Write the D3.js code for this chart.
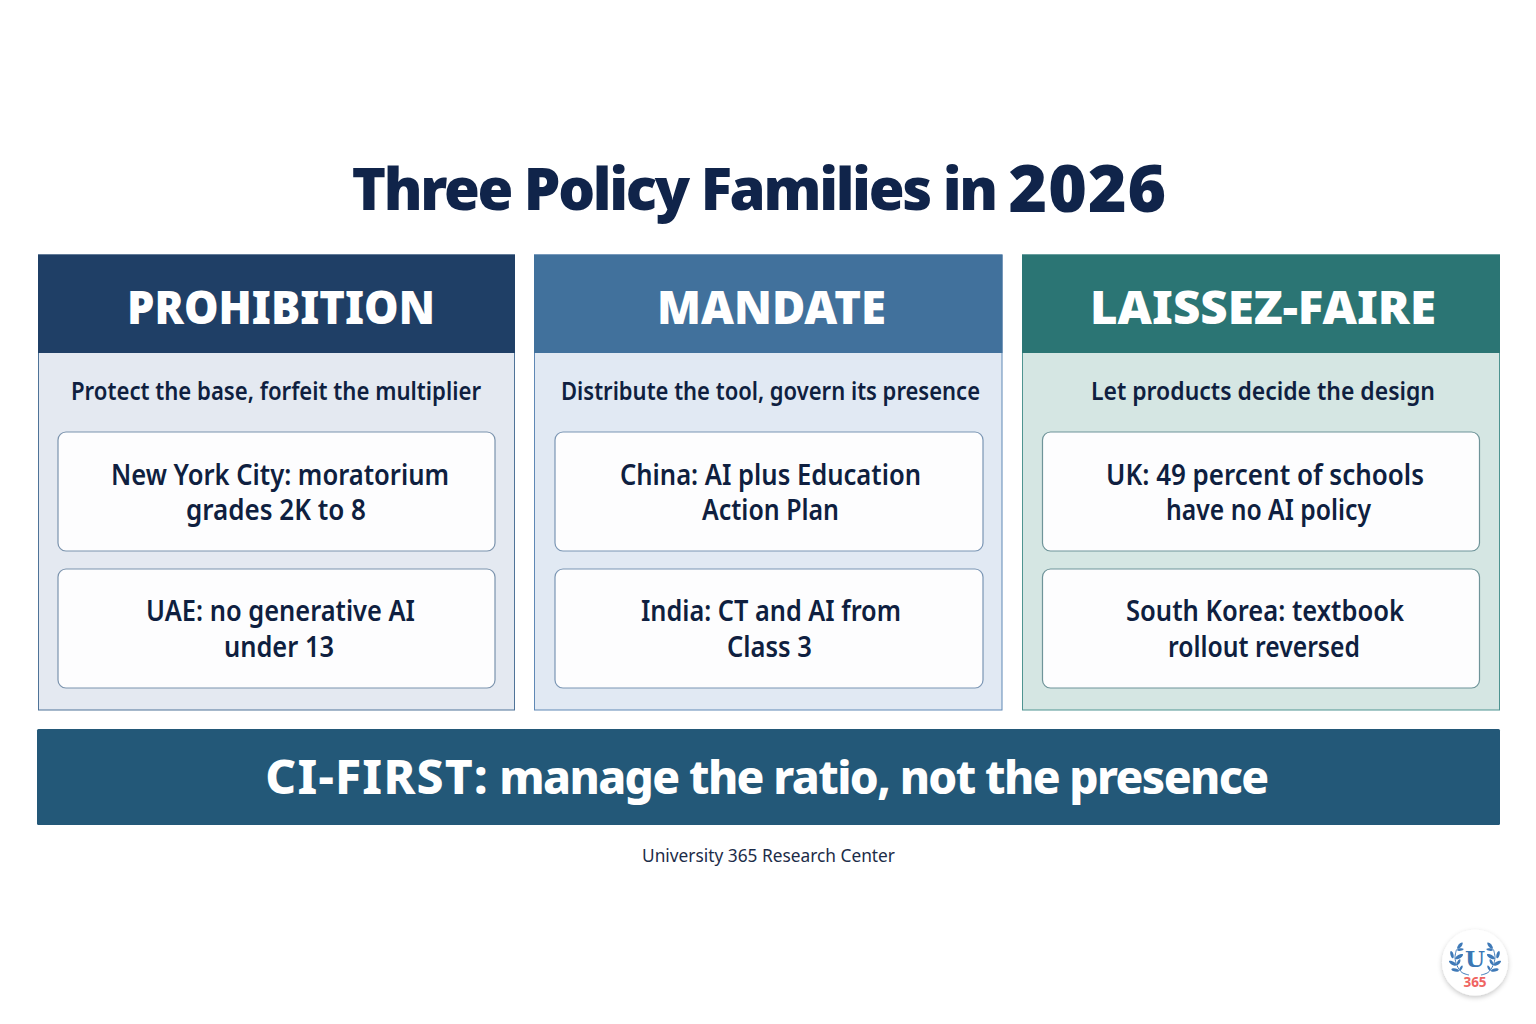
<!DOCTYPE html>
<html>
<head>
<meta charset="utf-8">
<script src="https://cdn.jsdelivr.net/npm/d3@7"></script>
<style>
  html, body { margin: 0; background: #fff; }
  svg { display: block; }
  text { font-family: "Noto Sans", "Open Sans", sans-serif; text-anchor: middle; }
</style>
</head>
<body>
<svg id="chart" width="1536" height="1024"></svg>
<script>
// Content
const titleParts = ["Three Policy Families in ", "2026"];
const families = ["PROHIBITION", "MANDATE", "LAISSEZ-FAIRE"];
const taglines = [
    "Protect the base, forfeit the multiplier",
    "Distribute the tool, govern its presence",
    "Let products decide the design"
];
const firstCards = [
    ["New York City: moratorium", "grades 2K to 8"],
    ["China: AI plus Education", "Action Plan"],
    ["UK: 49 percent of schools", "have no AI policy"]
];
const secondCards = [
    ["UAE: no generative AI", "under 13"],
    ["India: CT and AI from", "Class 3"],
    ["South Korea: textbook", "rollout reversed"]
];
const bannerParts = ["CI-FIRST:", " manage the ratio, not the presence"];
const source = "University 365 Research Center";

// Styles per column
const headColors = ["#1f3f66", "#41719c", "#2b7574"];
const bodyColors = ["#e4e9f1", "#e1e9f3", "#d5e6e3"];
const edgeColors = ["#4f7398", "#5f88b5", "#4f9491"];
const cardEdges = ["#7b93ad", "#7b96b4", "#6f9499"];
const ink = "#0f1f40";

// Layout
const colLeft = [38.5, 534.5, 1022.5];
const colRight = [514.5, 1002, 1499.5];
const cardLeft = [58, 555, 1042.5];
const cardRight = [495, 983, 1479.5];
const colTop = 255, headBottom = 353, colBottom = 710;

// Text centres and widths measured per column
const headCx = [281, 771.5, 1263], headW = [308, 229, 346];
const tagCx = [276, 770.5, 1263], tagW = [410, 419, 344];
const firstCx = [[280, 276], [770.5, 770.5], [1265, 1268.5]];
const firstW = [[338, 180], [301, 137], [318, 205]];
const secondCx = [[280.5, 279], [771, 769.5], [1265, 1264]];
const secondW = [[269, 110], [260, 85], [278, 192]];

const svg = d3.select("#chart");

// Squeeze a label to the measured width
function fit(sel, w) {
    return sel.attr("textLength", w).attr("lengthAdjust", "spacingAndGlyphs");
}

const titleText = svg.append("text")
    .attr("x", 759.5).attr("y", 210)
    .attr("font-weight", 900).attr("fill", "#10244a");
titleText.append("tspan")
    .attr("font-size", 58).attr("letter-spacing", -2.3).text(titleParts[0]);
titleText.append("tspan")
    .attr("dy", 2)
    .attr("font-size", 66).attr("letter-spacing", 1).text(titleParts[1]);

const cols = svg.selectAll(".col").data(families).enter().append("g").attr("class", "col");

cols.append("rect")
    .attr("x", (d, i) => colLeft[i]).attr("y", colTop)
    .attr("width", (d, i) => colRight[i] - colLeft[i]).attr("height", colBottom - colTop)
    .attr("fill", (d, i) => bodyColors[i])
    .attr("stroke", (d, i) => edgeColors[i]).attr("stroke-width", 1);

cols.append("rect")
    .attr("x", (d, i) => colLeft[i] - 0.5).attr("y", colTop - 0.5)
    .attr("width", (d, i) => colRight[i] - colLeft[i] + 1).attr("height", headBottom - colTop + 0.5)
    .attr("fill", (d, i) => headColors[i]);

fit(cols.append("text")
    .attr("x", (d, i) => headCx[i]).attr("y", 324)
    .attr("font-size", 46).attr("font-weight", 900)
    .attr("fill", "#fff").text(d => d), (d, i) => headW[i]);

fit(cols.append("text")
    .attr("x", (d, i) => tagCx[i]).attr("y", 400)
    .attr("font-size", 25).attr("font-weight", 600)
    .attr("fill", ink).text((d, i) => taglines[i]), (d, i) => tagW[i]);

function drawCards(rows, top, bottom, baselines, cx, widths) {
    cols.append("rect")
        .attr("x", (d, i) => cardLeft[i]).attr("y", top)
        .attr("width", (d, i) => cardRight[i] - cardLeft[i]).attr("height", bottom - top)
        .attr("rx", 8)
        .attr("fill", "#fdfdfe")
        .attr("stroke", (d, i) => cardEdges[i]).attr("stroke-width", 1.2);
    baselines.forEach((y, k) => {
        fit(cols.append("text")
            .attr("x", (d, i) => cx[i][k]).attr("y", y)
            .attr("font-size", 28).attr("font-weight", 600)
            .attr("fill", ink).text((d, i) => rows[i][k]), (d, i) => widths[i][k]);
    });
}
drawCards(firstCards, 432, 551, [485, 520], firstCx, firstW);
drawCards(secondCards, 569, 688, [621, 657], secondCx, secondW);

svg.append("rect")
    .attr("x", 37).attr("y", 729).attr("width", 1463).attr("height", 96).attr("rx", 1.5)
    .attr("fill", "#235878");
const bannerText = svg.append("text")
    .attr("x", 766.5).attr("y", 794)
    .attr("font-weight", 800).attr("fill", "#fff");
bannerText.append("tspan")
    .attr("font-size", 48).attr("letter-spacing", 1.2).text(bannerParts[0]);
bannerText.append("tspan")
    .attr("font-size", 46).attr("letter-spacing", -1.6).text(bannerParts[1]);

fit(svg.append("text")
    .attr("x", 768.5).attr("y", 862)
    .attr("font-size", 18).attr("fill", "#1c2c48").text(source), 253);

// Badge in the lower right corner
const shadow = svg.append("defs").append("filter").attr("id", "soft")
    .attr("x", "-30%").attr("y", "-30%").attr("width", "160%").attr("height", "160%");
shadow.append("feDropShadow")
    .attr("dx", 0).attr("dy", 2).attr("stdDeviation", 2.5)
    .attr("flood-color", "#000").attr("flood-opacity", 0.22);

const badge = svg.append("g").attr("transform", "translate(1475,962.5)");
badge.append("circle").attr("r", 33).attr("fill", "#fff").attr("filter", "url(#soft)");

// Wreath leaves as base and tip, left side, from the badge centre
const leaves = [
    [-18.3, -13, -12.7, -19.7], [-19, -12.3, -11.7, -13.3],
    [-21.7, -3.3, -24, -11.3], [-20.7, -3, -12.3, -8],
    [-17.7, 3.3, -25.7, -1.3], [-18.3, 3.3, -15, -3],
    [-15, 8.7, -23.3, 6.7], [-15.7, 8.7, -12.7, 3.3]
];
const stem = [[-6, 12.5], [-13, 10], [-18, 3], [-20, -5], [-18.5, -13]];
const blue = "#3f7ab8";
const leafShape = d3.line().curve(d3.curveBasisClosed)(
    [[0, 0], [0.3, -0.17], [0.7, -0.17], [1, 0], [0.7, 0.17], [0.3, 0.17]]);

[1, -1].forEach(side => {
    const wreath = badge.append("g").attr("transform", `scale(${side},1)`);
    wreath.append("path")
        .attr("d", d3.line().curve(d3.curveCatmullRom)(stem))
        .attr("fill", "none").attr("stroke", blue).attr("stroke-width", 1);
    wreath.selectAll("path.leaf").data(leaves).enter().append("path")
        .attr("class", "leaf")
        .attr("d", leafShape)
        .attr("fill", blue)
        .attr("transform", d => {
            const dx = d[2] - d[0], dy = d[3] - d[1];
            const len = Math.hypot(dx, dy) * 1.15;
            const angle = Math.atan2(dy, dx) * 180 / Math.PI;
            return `translate(${d[0]},${d[1]}) rotate(${angle}) scale(${len})`;
        });
});
badge.append("text")
    .attr("y", 4.3).attr("font-size", 23).attr("font-weight", 700)
    .attr("style", "font-family:'DejaVu Serif',serif")
    .attr("fill", "#3b78b5").text("U");
badge.append("text")
    .attr("y", 24.5).attr("font-size", 13.5).attr("font-weight", 700)
    .attr("fill", "#ef6461").text("365");
</script>
</body>
</html>
